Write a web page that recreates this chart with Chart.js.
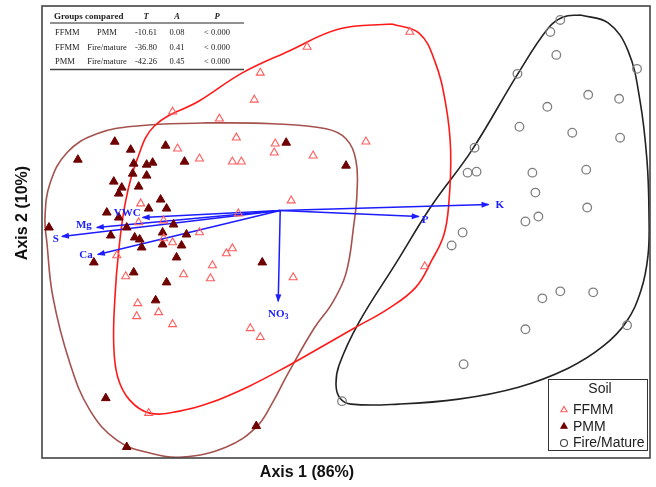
<!DOCTYPE html>
<html>
<head>
<meta charset="utf-8">
<script src="https://cdn.jsdelivr.net/npm/chart.js@4.4.1/dist/chart.umd.min.js"></script>
<style>
  body { margin: 0; background: #fff; }
  canvas { display: block; }
</style>
</head>
<body>
<canvas id="nms" width="656" height="487"></canvas>
<script>
// ordination scores (arbitrary axis units)
const ffmmPoints = [
  [369,427],[266,412],[219,386],[213,359],[131,347],[178,340],[195,321],[325,317],
  [136,310],[234,315],[233,306],[272,303],[158,300],[191,297],[200,297],[250,258],
  [197,245],[99,255],[97,236],[122,238],[158,226],[122,220],[131,216],[75,203],
  [185,205],[191,210],[171,193],[169,180],[142,184],[84,182],[96,155],[95,142],
  [117,146],[131,134],[209,130],[219,121],[107,45],[252,181],[384,192]
];
const pmmPoints = [
  [73,317],[36,299],[89,309],[124,313],[143,297],[92,295],[105,294],[111,296],
  [91,285],[105,283],[72,277],[97,272],[80,271],[77,265],[119,259],[107,250],
  [125,250],[65,246],[77,241],[85,231],[132,234],[7,231],[69,223],[93,221],
  [98,219],[121,226],[145,224],[121,214],[140,213],[100,211],[135,201],[52,196],
  [92,186],[125,176],[221,196],[114,158],[64,60],[215,32],[85,11],[245,316],[305,293]
];
const firePoints = [
  [520,439],[510,427],[516,404],[477,385],[597,390],[548,364],[579,360],[507,352],
  [479,332],[532,326],[580,321],[434,311],[427,286],[436,287],[492,286],[546,289],
  [495,266],[547,251],[485,237],[498,242],[422,226],[411,213],[520,167],[502,160],
  [553,166],[485,129],[587,133],[423,94],[301,57]
];

// group outlines
const ffmmHull = [
  [351,435],[378,426],[394,398],[405,355],[410,308],[408,253],[403,223],[391,198],
  [375,171],[348,150],[313,130],[278,110],[248,93],[208,72],[168,55],[138,47],
  [108,45],[88,58],[76,81],[72,113],[73,158],[77,208],[84,258],[95,298],[113,333],
  [158,358],[201,386],[248,408],[298,430],[351,435]
];
const pmmHull = [
  [165,336],[231,335],[285,330],[305,320],[315,298],[316,265],[313,235],[305,185],
  [291,155],[273,130],[247,85],[231,55],[215,31],[185,11],[141,1],[108,5],[75,18],
  [48,48],[28,95],[11,161],[5,215],[3,241],[8,275],[25,306],[55,325],[98,333],[165,336]
];
const fireHull = [
  [540,444],[568,436],[588,408],[600,358],[607,298],[609,243],[608,203],[601,168],
  [586,136],[563,112],[528,90],[478,71],[418,59],[358,54],[310,54],[299,60],[295,73],
  [298,93],[318,136],[355,195],[391,253],[431,308],[478,386],[508,431],[523,442],[540,444]
];

// environmental vectors
const vectorOrigin = [239,248];
const vectorNames = ['K','P','NO3','VWC','Mg','S','Ca'];
const vectorEnds = [[448,254],[378,242],[237,157],[101,241],[55,231],[20,222],[56,204]];

// MRPP table
const tableHeader = ['Groups compared','T','A','P'];
const tableGroupA = ['FFMM','FFMM','PMM'];
const tableGroupB = ['PMM','Fire/mature','Fire/mature'];
const tableT = ['-10.61','-36.80','-42.26'];
const tableA = ['0.08','0.41','0.45'];
const tableP = ['< 0.000','< 0.000','< 0.000'];

const legendTitle = 'Soil';
const legendNames = ['FFMM','PMM','Fire/Mature'];

const BLUE = '#1c1cff';
const FFMM_COL = '#ff5c5c';
const PMM_COL = '#6e0000';
const FIRE_COL = '#808080';

// label placement: [dx, dy, align]
const labelPlace = {
  K: [7, 1, 'left'], P: [3, 4, 'left'], NO3: [0, 13, 'center'],
  VWC: [-2, -4, 'right'], Mg: [-5, -2, 'right'], S: [-3, 3, 'right'], Ca: [-5, 1, 'right']
};

const toXY = arr => arr.map(p => ({ x: p[0], y: p[1] }));

function hullSet(pts, color) {
  return {
    type: 'line', data: toXY(pts), showLine: true, fill: false, tension: 0.4,
    borderColor: color, borderWidth: 1.6, pointRadius: 0, order: 5
  };
}

const datasets = [
  hullSet(ffmmHull, '#ff1a1a'),
  hullSet(pmmHull, '#a5524e'),
  hullSet(fireHull, '#222222'),
];
const vectorStart = datasets.length;
vectorEnds.forEach(e => {
  datasets.push({
    type: 'line', data: toXY([vectorOrigin, e]), showLine: true, fill: false,
    borderColor: BLUE, borderWidth: 1.5, pointRadius: 0, order: 4
  });
});
datasets.push({
  label: 'FFMM', data: toXY(ffmmPoints), pointStyle: 'triangle', pointRadius: 4.6,
  borderColor: FFMM_COL, backgroundColor: 'rgba(0,0,0,0)', borderWidth: 1.1, order: 1
});
datasets.push({
  label: 'PMM', data: toXY(pmmPoints), pointStyle: 'triangle', pointRadius: 5,
  borderColor: PMM_COL, backgroundColor: PMM_COL, borderWidth: 1, order: 2
});
datasets.push({
  label: 'Fire/Mature', data: toXY(firePoints), pointStyle: 'circle', pointRadius: 4.3,
  borderColor: FIRE_COL, backgroundColor: 'rgba(0,0,0,0)', borderWidth: 1.3, order: 3
});

const overlay = {
  id: 'overlay',
  afterDatasetsDraw(chart) {
    const ctx = chart.ctx;
    ctx.save();
    vectorNames.forEach((name, i) => {
      const meta = chart.getDatasetMeta(vectorStart + i);
      const p0 = meta.data[0], p1 = meta.data[1];
      const ang = Math.atan2(p1.y - p0.y, p1.x - p0.x);
      ctx.save();
      ctx.translate(p1.x, p1.y);
      ctx.rotate(ang);
      ctx.beginPath();
      ctx.moveTo(1, 0); ctx.lineTo(-7, -3); ctx.lineTo(-7, 3); ctx.closePath();
      ctx.fillStyle = BLUE;
      ctx.fill();
      ctx.restore();

      const pl = labelPlace[name];
      ctx.fillStyle = BLUE;
      ctx.textBaseline = 'middle';
      ctx.font = 'bold 11px "Liberation Serif", serif';
      const lx = p1.x + pl[0], ly = p1.y + pl[1];
      if (name === 'NO3') {
        const w1 = ctx.measureText('NO').width;
        ctx.font = 'bold 8px "Liberation Serif", serif';
        const w2 = ctx.measureText('3').width;
        const sx = lx - (w1 + w2) / 2;
        ctx.textAlign = 'left';
        ctx.fillText('3', sx + w1, ly + 3);
        ctx.font = 'bold 11px "Liberation Serif", serif';
        ctx.fillText('NO', sx, ly);
      } else {
        ctx.textAlign = pl[2];
        ctx.fillText(name, lx, ly);
      }
    });
    ctx.restore();
  },
  afterDraw(chart) {
    const ctx = chart.ctx;
    const a = chart.chartArea;
    ctx.save();

    // plot frame
    ctx.strokeStyle = '#444';
    ctx.lineWidth = 1.6;
    ctx.strokeRect(a.left, a.top, a.right - a.left, a.bottom - a.top);

    // axis titles
    ctx.fillStyle = '#111';
    ctx.font = 'bold 16px "Liberation Sans", Arial, sans-serif';
    ctx.textAlign = 'center';
    ctx.textBaseline = 'middle';
    ctx.fillText('Axis 1 (86%)', 307, 473);
    ctx.save();
    ctx.translate(23, 213);
    ctx.rotate(-Math.PI / 2);
    ctx.fillText('Axis 2 (10%)', 0, 0);
    ctx.restore();

    // MRPP table
    const tx0 = 50, tx1 = 244;
    ctx.strokeStyle = '#222';
    ctx.lineWidth = 1;
    ctx.beginPath(); ctx.moveTo(tx0, 23); ctx.lineTo(tx1, 23); ctx.stroke();
    ctx.lineWidth = 1.6;
    ctx.strokeStyle = '#444';
    ctx.beginPath(); ctx.moveTo(tx0, 69.5); ctx.lineTo(tx1, 69.5); ctx.stroke();
    ctx.fillStyle = '#222';
    ctx.textBaseline = 'middle';
    ctx.font = 'bold 9px "Liberation Serif", serif';
    ctx.textAlign = 'left';
    ctx.fillText(tableHeader[0], 54, 17);
    ctx.font = 'italic bold 8.5px "Liberation Serif", serif';
    ctx.textAlign = 'center';
    ctx.fillText(tableHeader[1], 146, 17);
    ctx.fillText(tableHeader[2], 177, 17);
    ctx.fillText(tableHeader[3], 217, 17);
    const rowY = [33, 48, 62];
    ctx.font = '8.5px "Liberation Serif", serif';
    rowY.forEach((y, i) => {
      ctx.textAlign = 'left';
      ctx.fillText(tableGroupA[i], 55, y);
      ctx.textAlign = 'center';
      ctx.fillText(tableGroupB[i], 107, y);
      ctx.fillText(tableT[i], 146, y);
      ctx.fillText(tableA[i], 177, y);
      ctx.fillText(tableP[i], 217, y);
    });

    // legend
    const lx = 548, ly = 379, lw = 99, lh = 71;
    ctx.fillStyle = '#fff';
    ctx.fillRect(lx, ly, lw, lh);
    ctx.strokeStyle = '#333';
    ctx.lineWidth = 1;
    ctx.strokeRect(lx + 0.5, ly + 0.5, lw, lh);
    ctx.fillStyle = '#222';
    ctx.font = '14px "Liberation Sans", Arial, sans-serif';
    ctx.textAlign = 'center';
    ctx.fillText(legendTitle, 600, 389);
    const entryY = [410, 426.5, 443];
    const styles = [
      { s: 'triangle', c: FFMM_COL, f: 'rgba(0,0,0,0)', r: 3.6 },
      { s: 'triangle', c: PMM_COL, f: PMM_COL, r: 3.6 },
      { s: 'circle', c: '#444', f: 'rgba(0,0,0,0)', r: 3.5 }
    ];
    legendNames.forEach((name, i) => {
      const st = styles[i];
      ctx.strokeStyle = st.c;
      ctx.fillStyle = st.f;
      ctx.lineWidth = 1.1;
      Chart.helpers.drawPoint(ctx, { pointStyle: st.s, radius: st.r, rotation: 0, borderWidth: 1.1 }, 564, entryY[i]);
      ctx.fillStyle = '#222';
      ctx.textAlign = 'left';
      ctx.font = '14px "Liberation Sans", Arial, sans-serif';
      ctx.fillText(name, 573, entryY[i] + 0.5);
    });
    ctx.restore();
  }
};

new Chart(document.getElementById('nms'), {
  type: 'scatter',
  data: { datasets },
  options: {
    responsive: false,
    animation: false,
    layout: { padding: { left: 42, top: 5, right: 4, bottom: 29 } },
    scales: {
      x: { type: 'linear', display: false, min: 0, max: 610 },
      y: { type: 'linear', display: false, min: 0, max: 453 }
    },
    plugins: { legend: { display: false }, tooltip: { enabled: false } }
  },
  plugins: [overlay]
});
</script>
</body>
</html>
